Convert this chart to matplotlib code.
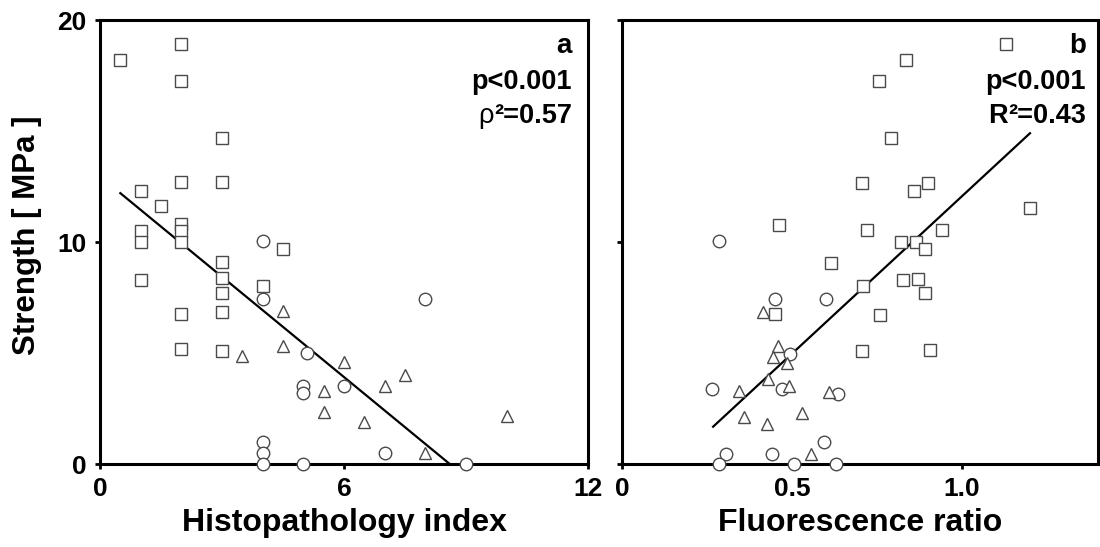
import numpy as np
import matplotlib
matplotlib.use('Agg')
import matplotlib.pyplot as plt

plt.rcParams['font.family'] = ['Liberation Sans', 'DejaVu Sans']
plt.rcParams['font.weight'] = 'bold'

# panel a: histopathology index vs strength (MPa)
histo_sq_x = [0.5, 2, 2, 3, 2, 3, 1, 1.5, 1, 2, 2, 1, 2, 1, 3, 3, 3, 3, 2, 2, 3, 4.5, 4]
histo_sq_y = [18.2, 18.9, 17.25, 14.7, 12.7, 12.7, 12.3, 11.6, 10.5, 10.8, 10.5, 10.0, 10.0,
              8.3, 9.1, 8.4, 7.7, 6.85, 6.75, 5.2, 5.1, 9.7, 8.0]
histo_ci_x = [4, 4, 5.1, 5, 5, 6, 4, 4, 4, 5, 8, 7, 9]
histo_ci_y = [10.05, 7.45, 5.0, 3.5, 3.2, 3.5, 1.0, 0.5, 0.0, 0.0, 7.45, 0.5, 0.0]
histo_tr_x = [4.5, 4.5, 3.5, 6, 5.5, 5.5, 7.5, 7, 6.5, 8, 10]
histo_tr_y = [6.9, 5.3, 4.85, 4.6, 3.3, 2.35, 4.0, 3.5, 1.9, 0.5, 2.15]
histo_fit_x = [0.5, 8.6]
histo_fit_y = [12.2, 0.0]

# panel b: fluorescence ratio vs strength (MPa)
fluo_sq_x = [1.13, 0.835, 0.755, 0.79, 0.705, 0.9, 0.86, 1.2, 0.72, 0.94, 0.82, 0.865,
             0.89, 0.71, 0.825, 0.87, 0.89, 0.76, 0.705, 0.905, 0.463, 0.615, 0.45]
fluo_sq_y = [18.9, 18.2, 17.25, 14.7, 12.65, 12.65, 12.3, 11.55, 10.55, 10.55, 10.0, 10.0,
             9.7, 8.0, 8.3, 8.35, 7.7, 6.7, 5.1, 5.15, 10.75, 9.05, 6.75]
fluo_ci_x = [0.285, 0.45, 0.6, 0.495, 0.265, 0.47, 0.635, 0.595, 0.305, 0.44, 0.285, 0.505, 0.63]
fluo_ci_y = [10.05, 7.45, 7.45, 4.95, 3.4, 3.4, 3.15, 0.98, 0.45, 0.45, 0.0, 0.0, 0.0]
fluo_tr_x = [0.415, 0.46, 0.445, 0.485, 0.43, 0.345, 0.49, 0.61, 0.36, 0.53, 0.425, 0.555]
fluo_tr_y = [6.85, 5.3, 4.8, 4.55, 3.85, 3.3, 3.5, 3.25, 2.1, 2.3, 1.8, 0.45]
fluo_fit_x = [0.268, 1.2]
fluo_fit_y = [1.68, 14.9]

edge = '#4a4a4a'


def draw_panel(ax, sq, ci, tr, fit, xlim, xticks, xticklabels, xlabel, letter, stat_sym, stat_val, xr):
    ax.plot(fit[0], fit[1], color='black', lw=1.6, zorder=2)
    style = dict(linestyle='none', mfc='white', mec=edge, mew=1.0, clip_on=False, zorder=5)
    ax.plot(sq[0], sq[1], marker='s', ms=8.3, **style)
    ax.plot(ci[0], ci[1], marker='o', ms=9, **style)
    ax.plot(tr[0], tr[1], marker='^', ms=9, **style)
    ax.set_xlim(xlim)
    ax.set_ylim(0, 20)
    ax.set_xticks(xticks)
    ax.set_xticklabels(xticklabels)
    ax.set_yticks([0, 10, 20])
    for s in ax.spines.values():
        s.set_linewidth(2.2)
    ax.tick_params(direction='out', length=3.5, width=2, labelsize=19, pad=6)
    ax.set_xlabel(xlabel, fontsize=23, fontweight='bold', labelpad=5)
    # corner annotation, baselines
    ax.text(xr, 0.926, letter, transform=ax.transAxes, ha='right', va='baseline',
            fontsize=20, fontweight='bold')
    ax.text(xr, 0.845, 'p<0.001', transform=ax.transAxes, ha='right', va='baseline',
            fontsize=19.5, fontweight='bold')
    t = ax.text(xr, 0.768, stat_val, transform=ax.transAxes, ha='right', va='baseline',
                fontsize=19.5, fontweight='bold')
    ax.annotate(stat_sym, xy=(0, 0), xycoords=t, ha='right', va='bottom',
                fontsize=19.5, fontweight='normal' if stat_sym == '\u03c1' else 'bold')


fig = plt.figure(figsize=(11, 5.47), dpi=100)
ax1 = fig.add_axes([100/1100, 83/547, 488/1100, 444/547])
ax2 = fig.add_axes([622/1100, 83/547, 476/1100, 444/547])

draw_panel(ax1, (histo_sq_x, histo_sq_y), (histo_ci_x, histo_ci_y), (histo_tr_x, histo_tr_y),
           (histo_fit_x, histo_fit_y), (0, 12), [0, 6, 12], ['0', '6', '12'],
           'Histopathology index', 'a', '\u03c1', '\u00b2=0.57', 0.967)
draw_panel(ax2, (fluo_sq_x, fluo_sq_y), (fluo_ci_x, fluo_ci_y), (fluo_tr_x, fluo_tr_y),
           (fluo_fit_x, fluo_fit_y), (0, 1.4), [0, 0.5, 1.0], ['0', '0.5', '1.0'],
           'Fluorescence ratio', 'b', 'R', '\u00b2=0.43', 0.975)

ax1.set_ylabel('Strength [ MPa ]', fontsize=22.5, fontweight='bold')
ax1.yaxis.set_label_coords(-0.118, 0.515)
ax2.set_yticklabels([])

fig.savefig('out.png', dpi=100)
plt.close(fig)
